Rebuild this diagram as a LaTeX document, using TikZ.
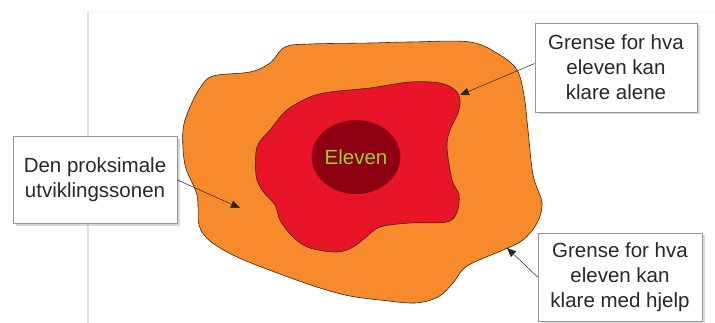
\documentclass[tikz,border=0pt]{standalone}
\usepackage{fontspec}
\setmainfont{Liberation Sans}
\usetikzlibrary{arrows.meta,shadows,shapes.geometric}
\definecolor{zoneorange}{RGB}{247,138,42}
\definecolor{zonered}{RGB}{232,20,40}
\definecolor{coredark}{RGB}{140,0,18}
\definecolor{elevgreen}{RGB}{150,205,55}
\definecolor{boxline}{RGB}{150,150,150}
\definecolor{pagegray}{RGB}{226,226,236}
\definecolor{darktext}{RGB}{40,40,40}

\begin{document}
\begin{tikzpicture}[x=1pt,y=-1pt,
  box/.style={draw=boxline,fill=white,line width=0.8pt,
              drop shadow={shadow xshift=2.5pt,shadow yshift=-2.5pt,fill=gray!60},
              minimum width=164pt,minimum height=87pt,inner sep=0pt,
              font=\fontsize{20.5}{25}\selectfont,align=center,text=darktext},
  zone/.style={draw=black!70!brown,line width=0.6pt},
  arr/.style={-{Triangle[length=9pt,width=7.5pt]},line width=0.5pt,color=black!85}]
\useasboundingbox (0,0) rectangle (715,323);
% page edge
\draw[pagegray,line width=2pt] (88,12) -- (88,323);
\draw[gray!8,line width=1pt] (88,12) -- (715,12);
% zones
\draw[zone,fill=zoneorange] plot[smooth cycle,tension=0.55] coordinates {
  (285,47) (310,44) (370,43) (410,42) (470,42) (500,55) (517,70) (524,95)
  (528,130) (533,175) (542,203) (537,223) (523,240) (503,250) (467,266)
  (453,283) (438,297) (415,303) (380,300) (350,296) (320,288) (280,274)
  (237,257) (210,241) (199,225) (197,195) (185,165) (183,130) (190,107)
  (200,88) (213,76) (250,72) (270,63)};
\draw[zone,fill=zonered] plot[smooth cycle,tension=0.55] coordinates {
  (370,88) (410,82) (440,83) (455,90) (460,100) (458,113) (450,130)
  (447,147) (452,180) (459,195) (457,212) (447,222) (410,223) (380,227)
  (365,238) (353,247) (337,252) (310,248) (293,237) (280,220) (275,205)
  (262,190) (256,175) (257,147) (270,130) (287,110) (310,97) (330,92)};
\node[ellipse,fill=coredark,minimum width=82pt,minimum height=74pt,inner sep=0pt,
      font=\fontsize{20.5}{25}\selectfont,text=elevgreen] (elev) at (356,157) {Eleven};
% labels
\node[box] (prox) at (95,180) {Den proksimale\\utviklingssonen};
\node[box,minimum width=162pt,minimum height=89pt] (alene) at (616,67.5)
  {Grense for hva\\eleven kan\\klare alene};
\node[box,minimum height=88pt] (hjelp) at (620,277)
  {Grense for hva\\eleven kan\\klare med hjelp};
\coordinate (proxtip) at (240,208);
\coordinate (alenetip) at (460,95);
\coordinate (hjelptip) at (507,248);
\draw[arr] (prox.east) -- (proxtip);
\draw[arr] ([yshift=4pt]alene.west) -- (alenetip);
\draw[arr] (hjelp.west) -- (hjelptip);
\end{tikzpicture}
\end{document}
